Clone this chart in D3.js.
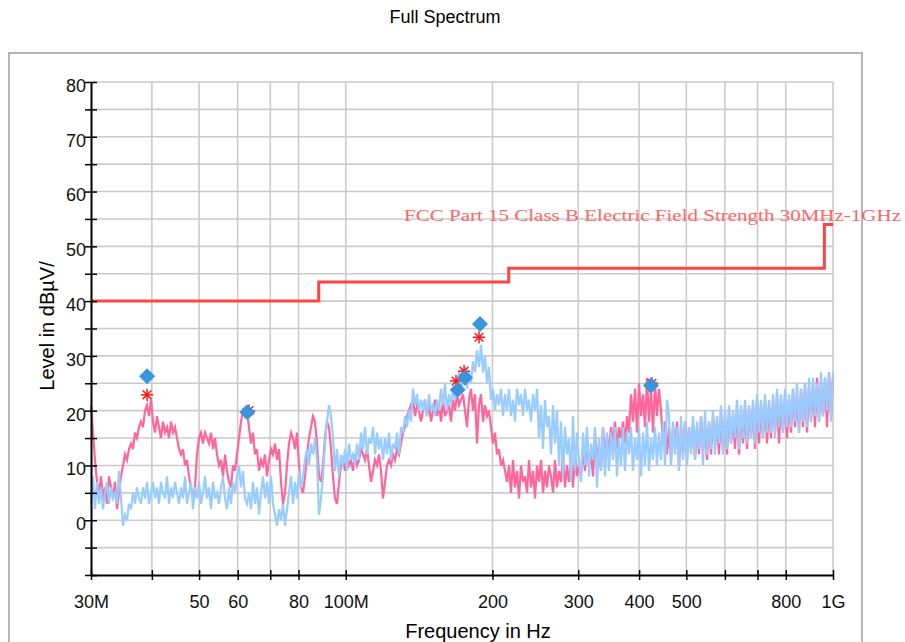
<!DOCTYPE html>
<html>
<head>
<meta charset="utf-8">
<script src="https://cdn.jsdelivr.net/npm/d3@7"></script>
<style>
  body { margin: 0; background: #fff; }
  text { font-family: "Liberation Sans", Arial, sans-serif; }
</style>
</head>
<body>
<svg id="chart" width="905" height="642"></svg>
<script>
// sweep 30 MHz .. 1 GHz, levels (dBuV/m), log-spaced samples
const fStart = 30e6;
const fStop = 1e9;

const horizontalLevels = [
  21,16,11,7,
  5,8,4,6,3,8,6,4,7,2,5,8,
  10,12,11,13,14,13,16,15,17,18,
  17,20,21,19,22,
  18,16,19,17,15,18,16,17,15,18,16,17,15,
  13,12,13,10,11,8,6,4,6,
  12,15,16,14,16,15,14,16,13,15,
  12,10,11,8,12,9,7,6,10,9,
  12,15,18,20,19,20,17,
  14,16,12,13,9,11,10,12,8,11,
  13,12,14,11,13,
  7,3,5,
  10,14,16,15,13,16,
  10,6,5,8,
  12,15,17,19,18,14,
  8,7,10,
  15,18,17,13,
  8,4,3,7,
  10,11,9,12,10,11,9,12,10,11,
  13,12,11,13,10,
  7,9,11,10,12,
  9,4,7,10,11,
  10,12,11,13,12,
  14,16,17,19,20,21,
  22,19,21,20,18,
  20,22,19,21,18,20,22,19,21,18,22,19,20,21,18,22,20,
  23,21,22,23,20,17,22,
  24,20,23,14,21,23,
  18,21,19,20,17,
  14,16,12,13,10,11,9,
  7,10,5,11,6,9,4,10,7,8,
  5,11,6,9,4,10,7,11,5,9,
  6,10,8,5,11,6,9,7,12,6,
  10,7,11,6,12,8,10,
  8,13,9,15,10,12,8,16,11,14,9,17,12,15,
  13,17,14,18,13,17,15,18,14,19,
  16,23,18,24,16,25,19,23,17,26,18,24,16,25,19,24,
  20,14,18,12,17,
  11,17,13,18,10,16,12,18,11,17,
  13,18,11,17,12,19,13,17,11,18,
  12,19,14,18,12,20,13,19,12,20,
  14,19,13,21,12,20,14,21,13,20,
  15,21,13,22,14,21,15,22,14,21,
  15,22,16,23,14,22,16,23,15,22,
  16,24,17,23,16,24,17,25,16,24,
  18,25,17,26,18,25,19,26,17,27,19,26
];

const verticalLevels = [
  3,8,2,7,
  3,6,2,5,7,3,6,4,5,3,9,4,
  -1,1,0,3,
  2,5,3,6,4,3,6,4,7,3,
  5,7,4,6,3,7,5,4,8,3,6,4,7,5,3,
  6,4,8,3,5,7,2,6,4,7,3,5,8,4,6,2,7,4,5,3,6,8,4,2,6,3,7,5,8,
  10,6,9,4,3,
  5,2,7,3,6,1,5,8,4,7,3,8,
  3,1,-1,2,0,3,-1,2,
  5,8,3,7,4,9,6,8,
  11,13,10,14,12,15,11,
  1,4,8,
  14,18,21,19,15,
  9,13,8,12,10,
  13,9,14,11,12,10,14,11,
  16,13,17,12,15,14,17,12,16,13,15,
  11,15,12,16,11,14,13,16,12,
  17,16,19,17,20,18,
  24,21,23,20,22,
  20,22,19,23,20,21,19,22,20,
  24,21,25,20,23,21,24,22,
  24,27,23,26,28,24,27,25,
  29,27,31,28,32,
  27,30,25,28,
  22,24,20,23,21,24,19,
  23,20,24,19,22,18,24,21,23,19,24,20,22,18,23,20,24,
  15,21,13,22,17,19,12,21,14,20,
  10,18,8,17,12,15,7,19,9,16,11,
  7,16,10,17,8,14,11,17,6,15,9,17,8,16,
  9,16,11,17,8,15,10,17,9,16,12,17,9,15,11,17,8,16,10,18,9,15,11,17,10,16,
  11,18,10,22,19,
  10,18,12,17,9,19,11,18,10,17,
  12,19,11,18,13,19,10,20,12,18,
  13,20,12,19,14,21,12,20,13,21,
  14,20,15,22,13,21,15,22,14,21,
  15,22,14,23,16,22,15,23,16,22,
  16,23,15,24,17,23,16,24,17,23,
  17,24,18,25,16,24,18,25,17,26,
  18,26,19,25,18,27,19,26,20,27,18,27
];

// FCC part 15 class B limit (MHz, dB)
const limitFreqs = [30, 88, 88, 216, 216, 960, 960, 1000];
const limitLevels = [40, 40, 43.5, 43.5, 46, 46, 54, 54];

// final measurement markers (MHz, dB)
const peakFreqs = [39.1, 62.8, 169.7, 175.7, 188.6, 423];
const peakLevels = [26.3, 19.7, 23.8, 26.0, 35.8, 24.6];
const qpFreqs = [39.1, 63.3, 168.4, 174.9, 187.7, 425];
const qpLevels = [22.9, 20.0, 25.4, 27.2, 33.4, 25.0];

const xGridMHz = [30, 40, 50, 60, 70, 80, 100, 200, 300, 400, 500, 600, 700, 800, 1000];
const xLabelMHz = [30, 50, 60, 80, 100, 200, 300, 400, 500, 800, 1000];
const xLabelText = ["30M", "50", "60", "80", "100M", "200", "300", "400", "500", "800", "1G"];
const yTicks = d3.range(-10, 81, 5);

const svg = d3.select("#chart");

// outer frame
svg.append("rect")
  .attr("x", 9).attr("y", 53)
  .attr("width", 853).attr("height", 600)
  .attr("fill", "none")
  .attr("stroke", "#b4b4b4")
  .attr("stroke-width", 2);

svg.append("text")
  .attr("x", 445).attr("y", 23)
  .attr("text-anchor", "middle")
  .style("font-size", "18px")
  .text("Full Spectrum");

const x = d3.scaleLog().domain([fStart, fStop]).range([91, 833]);
const y = d3.scaleLinear().domain([-10, 80]).range([575, 82]);

// grid
const grid = svg.append("g").attr("stroke", "#cbcbcb").attr("stroke-width", 1.6);
grid.selectAll("line.v")
  .data(xGridMHz.slice(1))
  .join("line")
  .attr("x1", d => x(d * 1e6)).attr("x2", d => x(d * 1e6))
  .attr("y1", y(80)).attr("y2", y(-10));
grid.selectAll("line.h")
  .data(yTicks.filter(d => d > -10))
  .join("line")
  .attr("x1", x(fStart)).attr("x2", x(fStop))
  .attr("y1", d => y(d)).attr("y2", d => y(d));

// limit line
const limitData = limitFreqs.map((f, i) => [f * 1e6, limitLevels[i]]);
svg.append("path")
  .datum(limitData)
  .attr("fill", "none")
  .attr("stroke", "#ff4444")
  .attr("stroke-width", 3)
  .attr("d", d3.line().x(d => x(d[0])).y(d => y(d[1])));

svg.append("text")
  .attr("x", 404).attr("y", 221)
  .attr("fill", "#ff6666")
  .attr("textLength", 497)
  .attr("lengthAdjust", "spacingAndGlyphs")
  .style("font-family", "'Liberation Serif', 'DejaVu Serif', serif")
  .style("font-size", "17px")
  .text("FCC Part 15 Class B Electric Field Strength 30MHz-1GHz");

// traces
const n = horizontalLevels.length;
const freqAt = i => fStart * Math.pow(fStop / fStart, i / (n - 1));
const traceLine = d3.line().x((d, i) => x(freqAt(i))).y(d => y(d));

svg.append("path")
  .datum(horizontalLevels)
  .attr("fill", "none")
  .attr("stroke", "#ff6699")
  .attr("stroke-width", 2.2)
  .attr("d", traceLine);

svg.append("path")
  .datum(verticalLevels)
  .attr("fill", "none")
  .attr("stroke", "#99ccff")
  .attr("stroke-width", 2.2)
  .attr("d", traceLine);

// axes
const xAxis = svg.append("g")
  .attr("transform", `translate(0,${y(-10)})`)
  .call(d3.axisBottom(x)
    .tickValues(xGridMHz.map(d => d * 1e6))
    .tickFormat(d => {
      const k = xLabelMHz.indexOf(Math.round(d / 1e6));
      return k >= 0 ? xLabelText[k] : "";
    })
    .tickSizeInner(5).tickSizeOuter(0).tickPadding(15));
xAxis.select(".domain").attr("stroke-width", 2);
xAxis.selectAll(".tick line").attr("y1", -5).attr("stroke-width", 1.5);
xAxis.selectAll(".tick text").style("font-size", "18px").attr("fill", "#111");

const yAxis = svg.append("g")
  .attr("transform", `translate(${x(fStart)},0)`)
  .call(d3.axisLeft(y)
    .tickValues(yTicks)
    .tickFormat(d => (d >= 0 && d % 10 === 0) ? d : "")
    .tickSizeInner(6).tickSizeOuter(0));
yAxis.select(".domain").attr("stroke-width", 2);
yAxis.selectAll(".tick line").attr("x1", 6).attr("stroke-width", 1.5);
yAxis.selectAll(".tick text")
  .attr("x", -5).attr("dy", "0.52em")
  .style("font-size", "18px").attr("fill", "#111");

// markers
const asterisk = {
  draw(ctx, size) {
    const r = Math.sqrt(size) / 2;
    const q = r * Math.SQRT1_2;
    ctx.moveTo(-r, 0); ctx.lineTo(r, 0);
    ctx.moveTo(0, -r); ctx.lineTo(0, r);
    ctx.moveTo(-q, -q); ctx.lineTo(q, q);
    ctx.moveTo(-q, q); ctx.lineTo(q, -q);
  }
};

svg.selectAll("path.qp")
  .data(qpFreqs)
  .join("path")
  .attr("class", "qp")
  .attr("transform", (d, i) => `translate(${x(d * 1e6)},${y(qpLevels[i])})`)
  .attr("d", d3.symbol(asterisk, 150))
  .attr("fill", "none")
  .attr("stroke", "#ff1a1a")
  .attr("stroke-width", 1.5);

svg.selectAll("path.pk")
  .data(peakFreqs)
  .join("path")
  .attr("class", "pk")
  .attr("transform", (d, i) => `translate(${x(d * 1e6)},${y(peakLevels[i])}) rotate(45)`)
  .attr("d", d3.symbol(d3.symbolSquare, 128))
  .attr("fill", "#3b95dc");

// axis titles
svg.append("text")
  .attr("transform", "translate(54,326) rotate(-90)")
  .attr("text-anchor", "middle")
  .style("font-size", "20px")
  .text("Level in dBµV/");

svg.append("text")
  .attr("x", 478).attr("y", 638)
  .attr("text-anchor", "middle")
  .style("font-size", "20px")
  .text("Frequency in Hz");
</script>
</body>
</html>
